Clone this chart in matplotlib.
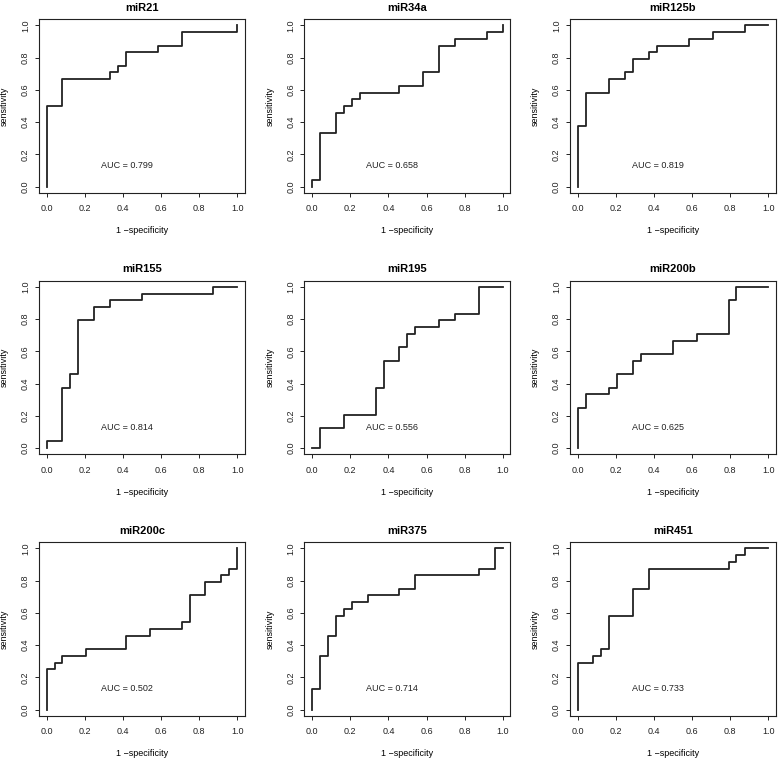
import matplotlib
matplotlib.use('Agg')
import matplotlib.pyplot as plt

plt.rcParams['font.family'] = ['Liberation Sans', 'DejaVu Sans']

# ROC curves (1 - specificity, sensitivity)
names = ['miR21', 'miR34a', 'miR125b', 'miR155', 'miR195', 'miR200b',
         'miR200c', 'miR375', 'miR451']
auc = [0.799, 0.658, 0.819, 0.814, 0.556, 0.625, 0.502, 0.714, 0.733]

fpr_21 = [0, 0, 0.083, 0.333, 0.375, 0.417, 0.583, 0.708, 1.0]
tpr_21 = [0, 0.5, 0.667, 0.708, 0.75, 0.833, 0.875, 0.958, 1.0]

fpr_34a = [0, 0, 0.042, 0.125, 0.167, 0.208, 0.25, 0.458, 0.583, 0.667, 0.75, 0.917, 1.0]
tpr_34a = [0, 0.042, 0.333, 0.458, 0.5, 0.542, 0.583, 0.625, 0.708, 0.875, 0.917, 0.958, 1.0]

fpr_125b = [0, 0, 0.042, 0.167, 0.25, 0.292, 0.375, 0.417, 0.583, 0.708, 0.875, 1.0]
tpr_125b = [0, 0.375, 0.583, 0.667, 0.708, 0.792, 0.833, 0.875, 0.917, 0.958, 1.0, 1.0]

fpr_155 = [0, 0, 0.083, 0.125, 0.167, 0.25, 0.333, 0.5, 0.875, 1.0]
tpr_155 = [0, 0.042, 0.375, 0.458, 0.792, 0.875, 0.917, 0.958, 1.0, 1.0]

fpr_195 = [0, 0.042, 0.167, 0.333, 0.375, 0.458, 0.5, 0.542, 0.667, 0.75, 0.875, 1.0]
tpr_195 = [0, 0.125, 0.208, 0.375, 0.542, 0.625, 0.708, 0.75, 0.792, 0.833, 1.0, 1.0]

fpr_200b = [0, 0, 0.042, 0.167, 0.208, 0.292, 0.333, 0.5, 0.625, 0.792, 0.833, 1.0]
tpr_200b = [0, 0.25, 0.333, 0.375, 0.458, 0.542, 0.583, 0.667, 0.708, 0.917, 1.0, 1.0]

fpr_200c = [0, 0, 0.042, 0.083, 0.208, 0.417, 0.542, 0.708, 0.75, 0.833, 0.917, 0.958, 1.0]
tpr_200c = [0, 0.25, 0.292, 0.333, 0.375, 0.458, 0.5, 0.542, 0.708, 0.792, 0.833, 0.875, 1.0]

fpr_375 = [0, 0, 0.042, 0.083, 0.125, 0.167, 0.208, 0.292, 0.458, 0.542, 0.875, 0.958, 1.0]
tpr_375 = [0, 0.125, 0.333, 0.458, 0.583, 0.625, 0.667, 0.708, 0.75, 0.833, 0.875, 1.0, 1.0]

fpr_451 = [0, 0, 0.083, 0.125, 0.167, 0.292, 0.375, 0.792, 0.833, 0.875, 1.0]
tpr_451 = [0, 0.292, 0.333, 0.375, 0.583, 0.75, 0.875, 0.917, 0.958, 1.0, 1.0]

curvas = [(fpr_21, tpr_21), (fpr_34a, tpr_34a), (fpr_125b, tpr_125b),
          (fpr_155, tpr_155), (fpr_195, tpr_195), (fpr_200b, tpr_200b),
          (fpr_200c, tpr_200c), (fpr_375, tpr_375), (fpr_451, tpr_451)]

ticks = [0.0, 0.2, 0.4, 0.6, 0.8, 1.0]
tick_labels = ['0.0', '0.2', '0.4', '0.6', '0.8', '1.0']

fig, axes = plt.subplots(3, 3, figsize=(7.78, 7.6), dpi=100)
plt.subplots_adjust(left=0.0501, right=0.9974, top=0.975, bottom=0.0579,
                    wspace=0.289, hspace=0.503)

for ax, nome, (fpr, tpr), a in zip(axes.flat, names, curvas, auc):
    ax.plot(fpr, tpr, drawstyle='steps-post', color='#222222', lw=1.3)
    ax.set_xlim(-0.04, 1.04)
    ax.set_ylim(-0.04, 1.04)
    ax.set_xticks(ticks)
    ax.set_xticklabels(tick_labels)
    ax.set_yticks(ticks)
    ax.set_yticklabels(tick_labels, rotation=90, va='center')
    ax.tick_params(direction='out', length=3, width=0.7, labelsize=6.5,
                   colors='#222222')
    ax.tick_params(axis='x', pad=5)
    ax.tick_params(axis='y', pad=3.5)
    for s in ax.spines.values():
        s.set_linewidth(0.8)
        s.set_color('#222222')
    ax.set_title(nome, fontsize=8, fontweight='bold', pad=6)
    ax.set_xlabel('1 \u2212specificity', fontsize=6.5)
    ax.set_ylabel('sensitivity', fontsize=6.5)
    ax.xaxis.set_label_coords(0.5, -0.19)
    ax.yaxis.set_label_coords(-0.146, 0.5)
    ax.text(0.42, 0.13, f'AUC = {a:.3f}', fontsize=6.5, ha='center',
            va='center', color='#222222')

plt.savefig('out.png', dpi=100)
